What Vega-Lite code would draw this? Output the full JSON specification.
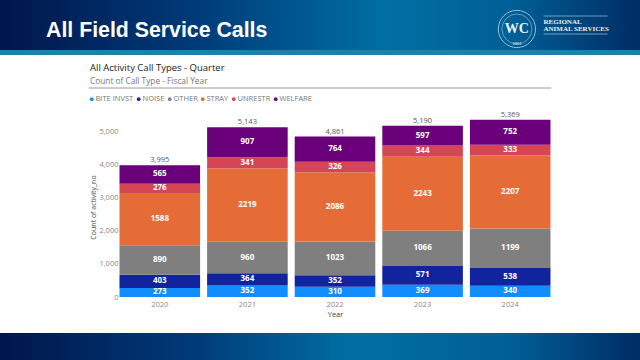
{
"$schema":"https://vega.github.io/schema/vega-lite/v6.json",
"padding":0,
"background":"white",
"spacing":0,
"bounds":"flush",
"center":true,
"config":{"view":{"stroke":null},"font":"Open Sans"},
"datasets":{
  "calls":[
   {"year":"2020","type":"BITE INVST","count":273},{"year":"2020","type":"NOISE","count":403},{"year":"2020","type":"OTHER","count":890},{"year":"2020","type":"STRAY","count":1588},{"year":"2020","type":"UNRESTR","count":276},{"year":"2020","type":"WELFARE","count":565},
   {"year":"2021","type":"BITE INVST","count":352},{"year":"2021","type":"NOISE","count":364},{"year":"2021","type":"OTHER","count":960},{"year":"2021","type":"STRAY","count":2219},{"year":"2021","type":"UNRESTR","count":341},{"year":"2021","type":"WELFARE","count":907},
   {"year":"2022","type":"BITE INVST","count":310},{"year":"2022","type":"NOISE","count":352},{"year":"2022","type":"OTHER","count":1023},{"year":"2022","type":"STRAY","count":2086},{"year":"2022","type":"UNRESTR","count":326},{"year":"2022","type":"WELFARE","count":764},
   {"year":"2023","type":"BITE INVST","count":369},{"year":"2023","type":"NOISE","count":571},{"year":"2023","type":"OTHER","count":1066},{"year":"2023","type":"STRAY","count":2243},{"year":"2023","type":"UNRESTR","count":344},{"year":"2023","type":"WELFARE","count":597},
   {"year":"2024","type":"BITE INVST","count":340},{"year":"2024","type":"NOISE","count":538},{"year":"2024","type":"OTHER","count":1199},{"year":"2024","type":"STRAY","count":2207},{"year":"2024","type":"UNRESTR","count":333},{"year":"2024","type":"WELFARE","count":752}
  ],
  "totals":[{"year":"2020","total":3995},{"year":"2021","total":5143},{"year":"2022","total":4861},{"year":"2023","total":5190},{"year":"2024","total":5369}]
},
"vconcat":[
{"width":640,"height":50,
 "view":{"fill":{"gradient":"linear","x1":0,"y1":0,"x2":1,"y2":0,"stops":[{"offset":0,"color":"#00164a"},{"offset":0.3,"color":"#003a78"},{"offset":0.6,"color":"#006fa3"},{"offset":0.8,"color":"#005f96"},{"offset":1,"color":"#002c64"}]},"stroke":null},
 "title":{"text":"All Field Service Calls","anchor":"start","frame":"group","dx":46,"offset":-41,"font":"Liberation Sans","fontSize":21.3,"fontWeight":"bold","color":"white"},
 "layer":[
  {"data":{"values":[{"ring":"outer"}]},"mark":{"type":"point","shape":"circle","filled":false,"stroke":"#cfe6f2","strokeWidth":1,"size":1385},
   "encoding":{"x":{"datum":525,"type":"quantitative","scale":{"domain":[0,640]},"axis":null},"y":{"datum":29,"type":"quantitative","scale":{"domain":[50,0]},"axis":null}}},
  {"data":{"values":[{"ring":"inner"}]},"mark":{"type":"point","shape":"circle","filled":false,"stroke":"#cfe6f2","strokeWidth":0.7,"size":900},
   "encoding":{"x":{"datum":525},"y":{"datum":29}}},
  {"data":{"values":[{"line":"upper"}]},"mark":{"type":"rule","stroke":"#9fc6da","strokeWidth":0.7},
   "encoding":{"x":{"datum":552},"x2":{"datum":617},"y":{"datum":16}}},
  {"data":{"values":[{"line":"lower"}]},"mark":{"type":"rule","stroke":"#9fc6da","strokeWidth":0.7},
   "encoding":{"x":{"datum":552},"x2":{"datum":617},"y":{"datum":34}}},
  {"data":{"values":[{"t":"WC"}]},"mark":{"type":"text","font":"Liberation Serif","fontSize":14,"fontWeight":"bold","color":"#e8f3f8"},
   "encoding":{"x":{"datum":525},"y":{"datum":29},"text":{"field":"t"}}},
  {"data":{"values":[{"t":"1861"}]},"mark":{"type":"text","font":"Liberation Sans","fontSize":4,"color":"#e8f3f8"},
   "encoding":{"x":{"datum":525},"y":{"datum":44},"text":{"field":"t"}}},
  {"data":{"values":[{"t":"REGIONAL"}]},"mark":{"type":"text","align":"left","font":"Liberation Serif","fontSize":7,"fontWeight":"bold","color":"#e8f3f8"},
   "encoding":{"x":{"datum":552},"y":{"datum":22},"text":{"field":"t"}}},
  {"data":{"values":[{"t":"ANIMAL SERVICES"}]},"mark":{"type":"text","align":"left","font":"Liberation Serif","fontSize":7,"fontWeight":"bold","color":"#e8f3f8"},
   "encoding":{"x":{"datum":552},"y":{"datum":29},"text":{"field":"t"}}}
 ]},
{"width":640,"height":5,"view":{"fill":"#1a83ad","stroke":null},"data":{"values":[]},"mark":"rect"},
{"width":640,"height":33,"data":{"values":[]},"mark":"rect"},
{"width":462,"height":209,
 "title":{"text":"All Activity Call Types - Quarter","subtitle":"Count of Call Type - Fiscal Year","anchor":"start","frame":"group","dx":1,"offset":2,"fontSize":9.5,"fontWeight":500,"color":"#222222","subtitleFontSize":8.3,"subtitleColor":"#777777","subtitlePadding":5,"font":"Open Sans","subtitleFont":"Open Sans"},
 "encoding":{
  "x":{"field":"year","type":"nominal","scale":{"range":[27,465],"paddingInner":0.08,"paddingOuter":0.04},
   "axis":{"title":"Year","titleFontSize":7.5,"titleColor":"#444444","titleFontWeight":"normal","titlePadding":3,"labelColor":"#888888","labelFontSize":7.5,"labelAngle":0,"labelPadding":3,"domain":false,"ticks":false}}
 },
 "layer":[
  {"data":{"name":"calls"},"mark":{"type":"bar"},
   "encoding":{
    "y":{"field":"count","type":"quantitative","stack":"zero","scale":{"domain":[0,6333],"nice":false},
     "axis":{"values":[0,1000,2000,3000,4000,5000],"labelExpr":"format(datum.value,',')","offset":-31,"grid":false,"domain":false,"ticks":false,"labelColor":"#888888","labelFontSize":7.5,"labelPadding":2,"title":"Count of activity_no","titleFontSize":7,"titleFontWeight":"normal","titleColor":"#444444","titleY":119,"titleX":-24}},
    "order":{"field":"type","sort":"ascending"},
    "color":{"field":"type","type":"nominal","scale":{"domain":["BITE INVST","NOISE","OTHER","STRAY","UNRESTR","WELFARE"],"range":["#118DFF","#12239E","#7F7F7F","#E66C37","#D64554","#6B007B"]},
     "legend":{"orient":"none","legendX":88,"legendY":95,"direction":"horizontal","title":null,"symbolType":"circle","symbolSize":14,"labelFontSize":7.5,"labelColor":"#777777","columnPadding":1,"labelOffset":0,"symbolStrokeWidth":0}}
   }},
  {"data":{"name":"calls"},"mark":{"type":"text","color":"white","fontWeight":"bold","fontSize":8},
   "encoding":{
    "y":{"field":"count","type":"quantitative","stack":"zero","bandPosition":0.5},
    "order":{"field":"type","sort":"ascending"},
    "detail":{"field":"type"},
    "text":{"field":"count","type":"quantitative","format":"d"}
   }},
  {"data":{"name":"totals"},"mark":{"type":"text","color":"#555555","fontSize":7.5,"baseline":"bottom","dy":-1},
   "encoding":{
    "y":{"field":"total","type":"quantitative"},
    "text":{"field":"total","type":"quantitative","format":","}
   }},
  {"data":{"values":[{"line":"divider"}]},"mark":{"type":"rule","stroke":"#9a9a9a","strokeWidth":1},
   "encoding":{"x":null,"y":{"datum":6333,"type":"quantitative"}}}
 ]},
{"width":640,"height":36,"data":{"values":[]},"mark":"rect"},
{"width":640,"height":27,
 "view":{"fill":{"gradient":"linear","x1":0,"y1":0,"x2":1,"y2":0,"stops":[{"offset":0,"color":"#00164a"},{"offset":0.3,"color":"#003a78"},{"offset":0.55,"color":"#006fa3"},{"offset":0.8,"color":"#005f96"},{"offset":1,"color":"#002c64"}]},"stroke":null},
 "data":{"values":[]},"mark":"rect"}
]
}
